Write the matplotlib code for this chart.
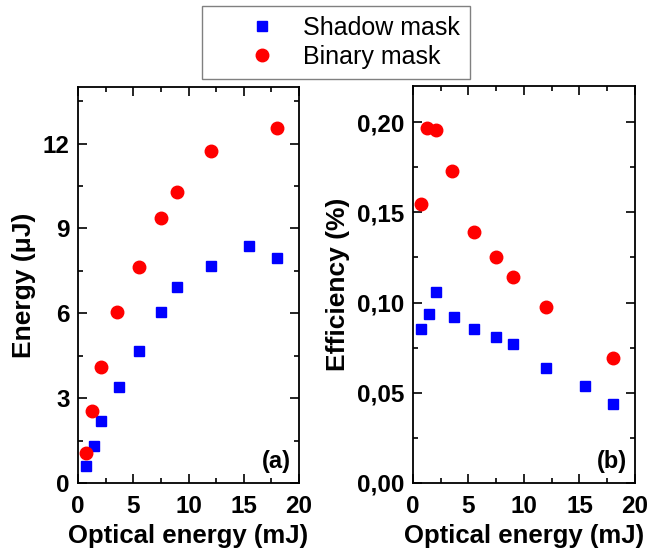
import matplotlib
matplotlib.use('Agg')
import matplotlib.pyplot as plt
from matplotlib.ticker import MultipleLocator, FixedLocator, FixedFormatter

plt.rcParams['font.family'] = ['Liberation Sans', 'DejaVu Sans']

# 数据
shadow_x = [0.7, 1.45, 2.1, 3.7, 5.5, 7.5, 9.0, 12.0, 15.5, 18.0]
shadow_energy = [0.59, 1.30, 2.19, 3.40, 4.68, 6.05, 6.94, 7.66, 8.37, 7.96]
shadow_eff = [0.0852, 0.0935, 0.1056, 0.0922, 0.0856, 0.0807, 0.0769, 0.0637, 0.0539, 0.0439]

binary_x = [0.72, 1.3, 2.1, 3.5, 5.5, 7.5, 9.0, 12.0, 18.0]
binary_energy = [1.06, 2.56, 4.10, 6.04, 7.65, 9.38, 10.28, 11.74, 12.54]
binary_eff = [0.1544, 0.1967, 0.1959, 0.1728, 0.1393, 0.1250, 0.1141, 0.0978, 0.0694]

eff_ticks = [0.00, 0.05, 0.10, 0.15, 0.20]
eff_ticklabels = ['0,00', '0,05', '0,10', '0,15', '0,20']

fig = plt.figure(figsize=(6.48, 5.56), dpi=100)
ax1 = fig.add_axes([0.1204, 0.1313, 0.341, 0.7122])
ax2 = fig.add_axes([0.6373, 0.1313, 0.3426, 0.714])

sq = dict(marker='s', color='#0000ff', linestyle='none', markersize=7.5, label='Shadow mask')
ci = dict(marker='o', color='#ff0000', linestyle='none', markersize=9, label='Binary mask')

ax1.plot(shadow_x, shadow_energy, **sq)
ax1.plot(binary_x, binary_energy, **ci)
ax2.plot(shadow_x, shadow_eff, **sq)
ax2.plot(binary_x, binary_eff, **ci)

ax1.set_xlim(0, 20)
ax1.set_ylim(0, 14)
ax1.yaxis.set_major_locator(MultipleLocator(3))
ax1.yaxis.set_minor_locator(MultipleLocator(1.5))
ax1.set_ylabel('Energy (μJ)', fontsize=19, fontweight='bold', labelpad=5)

ax2.set_xlim(0, 20)
ax2.set_ylim(0, 0.22)
ax2.yaxis.set_major_locator(FixedLocator(eff_ticks))
ax2.yaxis.set_major_formatter(FixedFormatter(eff_ticklabels))
ax2.yaxis.set_minor_locator(MultipleLocator(0.025))
ax2.set_ylabel('Efficiency (%)', fontsize=19, fontweight='bold', labelpad=5)

for ax, tag in [(ax1, '(a)'), (ax2, '(b)')]:
    ax.xaxis.set_major_locator(MultipleLocator(5))
    ax.xaxis.set_minor_locator(MultipleLocator(2.5))
    ax.set_xlabel('Optical energy (mJ)', fontsize=18.5, fontweight='bold', labelpad=4)
    ax.tick_params(which='both', direction='in', top=True, right=True, width=1.2)
    ax.tick_params(which='major', length=6.5, labelsize=17.5, pad=6)
    ax.tick_params(axis='x', which='major', pad=9)
    ax.tick_params(which='minor', length=3.5)
    for lbl in ax.get_xticklabels() + ax.get_yticklabels():
        lbl.set_fontweight('bold')
    for s in ax.spines.values():
        s.set_linewidth(1.3)
    ax.text(0.965, 0.025, tag, transform=ax.transAxes, ha='right', va='bottom',
            fontsize=17, fontweight='bold')

handles, labels = ax1.get_legend_handles_labels()
leg = fig.legend(handles, labels, loc='upper center', bbox_to_anchor=(0.518, 0.99),
                 fontsize=18, frameon=True, fancybox=False, edgecolor='#808080',
                 framealpha=1, handlelength=4.0, handletextpad=-0.35, labelspacing=0.2,
                 borderpad=0.4, borderaxespad=0, numpoints=1)
leg.get_frame().set_linewidth(1.0)

fig.savefig('out.png', dpi=100)
